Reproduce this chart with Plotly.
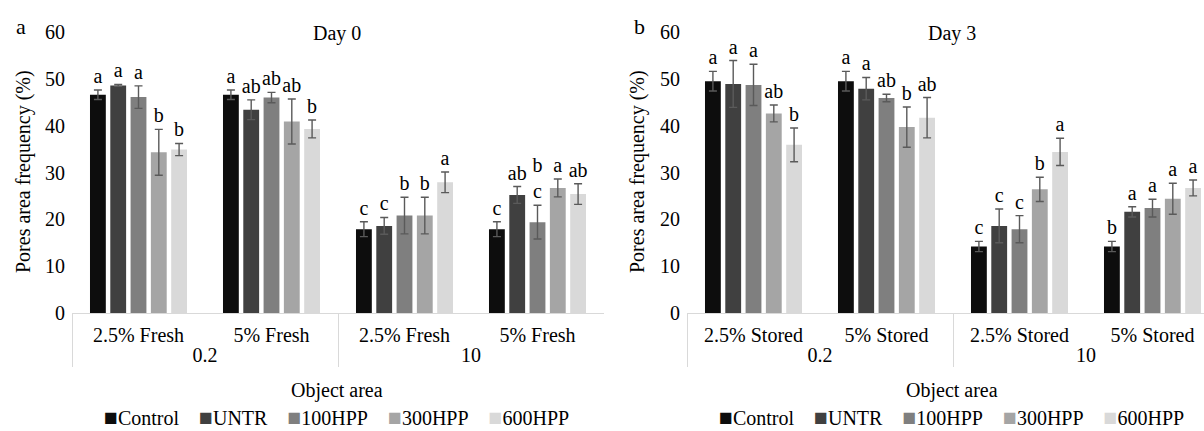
import plotly.graph_objects as go

# ---------------- data ----------------
series = ["Control", "UNTR", "100HPP", "300HPP", "600HPP"]
colors = ["#0d0d0d", "#404040", "#7f7f7f", "#a5a5a5", "#d9d9d9"]

outer = ["0.2", "0.2", "10", "10"]
inner_day0 = ["2.5% Fresh", "5% Fresh", "2.5% Fresh", "5% Fresh"]
inner_day3 = ["2.5% Stored", "5% Stored", "2.5% Stored", "5% Stored"]

# Day 0 (panel a)
day0_mean = {
    "Control": [46.6, 46.6, 17.9, 17.9],
    "UNTR":    [48.6, 43.4, 18.6, 25.2],
    "100HPP":  [46.1, 46.0, 20.8, 19.4],
    "300HPP":  [34.3, 40.9, 20.8, 26.7],
    "600HPP":  [34.9, 39.3, 27.9, 25.4],
}
day0_err = {
    "Control": [1.0, 1.0, 1.6, 1.6],
    "UNTR":    [0.2, 2.1, 1.8, 1.8],
    "100HPP":  [2.4, 1.1, 3.9, 3.6],
    "300HPP":  [4.9, 4.8, 3.9, 1.9],
    "600HPP":  [1.3, 1.9, 2.2, 2.2],
}
day0_letters = {
    "Control": ["a", "a", "c", "c"],
    "UNTR":    ["a", "ab", "c", "ab"],
    "100HPP":  ["a", "ab", "b", "b<br>c"],
    "300HPP":  ["b", "ab", "b", "a"],
    "600HPP":  ["b", "b", "a", "ab"],
}

# Day 3 (panel b)
day3_mean = {
    "Control": [49.5, 49.5, 14.2, 14.2],
    "UNTR":    [48.9, 47.9, 18.6, 21.6],
    "100HPP":  [48.7, 45.9, 17.9, 22.4],
    "300HPP":  [42.6, 39.7, 26.4, 24.4],
    "600HPP":  [35.9, 41.7, 34.4, 26.7],
}
day3_err = {
    "Control": [2.1, 2.1, 1.1, 1.1],
    "UNTR":    [5.0, 2.4, 3.6, 1.1],
    "100HPP":  [4.4, 0.8, 2.9, 1.9],
    "300HPP":  [1.8, 4.3, 2.6, 3.3],
    "600HPP":  [3.6, 4.3, 2.9, 1.7],
}
day3_letters = {
    "Control": ["a", "a", "c", "b"],
    "UNTR":    ["a", "a", "c", "a"],
    "100HPP":  ["a", "ab", "c", "a"],
    "300HPP":  ["ab", "b", "b", "a"],
    "600HPP":  ["b", "ab", "a", "a"],
}

y_ticks = [0, 10, 20, 30, 40, 50, 60]

# ---------------- layout geometry ----------------
W, H = 1204, 431
PLOT_TOP, PLOT_BOT = 32, 313
FONT = "Liberation Serif"


def px(x):
    return x / W


def py(y):
    return (PLOT_BOT - y) / (PLOT_BOT - PLOT_TOP)


fig = go.Figure()


def add_panel(xa, ya, inner, means, errs, letters):
    for s, c in zip(series, colors):
        fig.add_trace(go.Bar(
            x=[outer, inner], y=means[s], name=s, marker_color=c,
            marker_line_width=0, offsetgroup=s,
            error_y=dict(type="data", array=errs[s], color="#5a5a5a",
                         thickness=1.4, width=4),
            xaxis=xa, yaxis=ya, showlegend=False, hoverinfo="skip",
        ))
        tops = [m + e for m, e in zip(means[s], errs[s])]
        fig.add_trace(go.Bar(
            x=[outer, inner], y=[0.01] * len(tops), base=tops,
            marker_color="rgba(0,0,0,0)", marker_line_width=0,
            offsetgroup=s, text=letters[s], textposition="outside",
            textfont=dict(family=FONT, size=20, color="#000000"),
            constraintext="none", cliponaxis=False,
            xaxis=xa, yaxis=ya, showlegend=False, hoverinfo="skip",
        ))


add_panel("x", "y", inner_day0, day0_mean, day0_err, day0_letters)
add_panel("x2", "y2", inner_day3, day3_mean, day3_err, day3_letters)

L0, L1 = 72, 604
R0 = 687
cat_w = (L1 - L0) / 4
right_span = (W - R0) / cat_w

xcommon = dict(type="multicategory", showline=True, linecolor="#d9d9d9",
               linewidth=1, showgrid=False, zeroline=False, ticks="",
               ticklabelstandoff=4,
               showdividers=True, dividercolor="#d9d9d9", dividerwidth=1,
               tickfont=dict(family=FONT, size=20, color="#000000"))
ycommon = dict(range=[0, 60], tickvals=y_ticks, showline=False, showgrid=False,
               zeroline=False, ticks="", ticklabelstandoff=6,
               tickfont=dict(family=FONT, size=20, color="#000000"))

fig.update_layout(
    width=W, height=H,
    margin=dict(l=0, r=0, t=PLOT_TOP, b=H - PLOT_BOT),
    paper_bgcolor="white", plot_bgcolor="white",
    barmode="group", bargap=0.237, bargroupgap=0.22,
    font=dict(family=FONT, size=20, color="#000000"),
    xaxis=dict(domain=[px(L0), px(L1)], range=[-0.5, 3.5], anchor="y", **xcommon),
    yaxis=dict(domain=[0, 1], anchor="x", **ycommon),
    xaxis2=dict(domain=[px(R0), 1.0], range=[-0.5, -0.5 + right_span], anchor="y2", **xcommon),
    yaxis2=dict(domain=[0, 1], anchor="x2", **ycommon),
)

ann = []
def txt(x, y, t, size=20, angle=0, xanchor="center"):
    ann.append(dict(x=px(x), y=py(y), xref="paper", yref="paper", text=t,
                    showarrow=False, xanchor=xanchor, yanchor="middle",
                    textangle=angle, font=dict(family=FONT, size=size, color="#000000")))

# panel letters, titles, axis titles
txt(21, 26, "a", size=22)
txt(639, 26, "b", size=22)
txt(337, 33, "Day 0")
txt(952, 33, "Day 3")
txt(23, 172, "Pores area frequency (%)", angle=-90)
txt(637, 172, "Pores area frequency (%)", angle=-90)
txt(337, 390, "Object area")
txt(952, 390, "Object area")

# legends (one per panel)
sep = "\u00a0\u00a0\u00a0\u00a0"
legend_text = sep.join(
    f"<span style='color:{c};font-size:23px'>\u25a0</span>{s}"
    for s, c in zip(series, colors)
)
txt(336, 417, legend_text)
txt(951, 417, legend_text)

fig.update_layout(annotations=ann)
fig.write_html(
    "out.html",
    config={"displayModeBar": False},
    post_script="document.body.style.margin='0';document.body.style.overflow='hidden';",
)
